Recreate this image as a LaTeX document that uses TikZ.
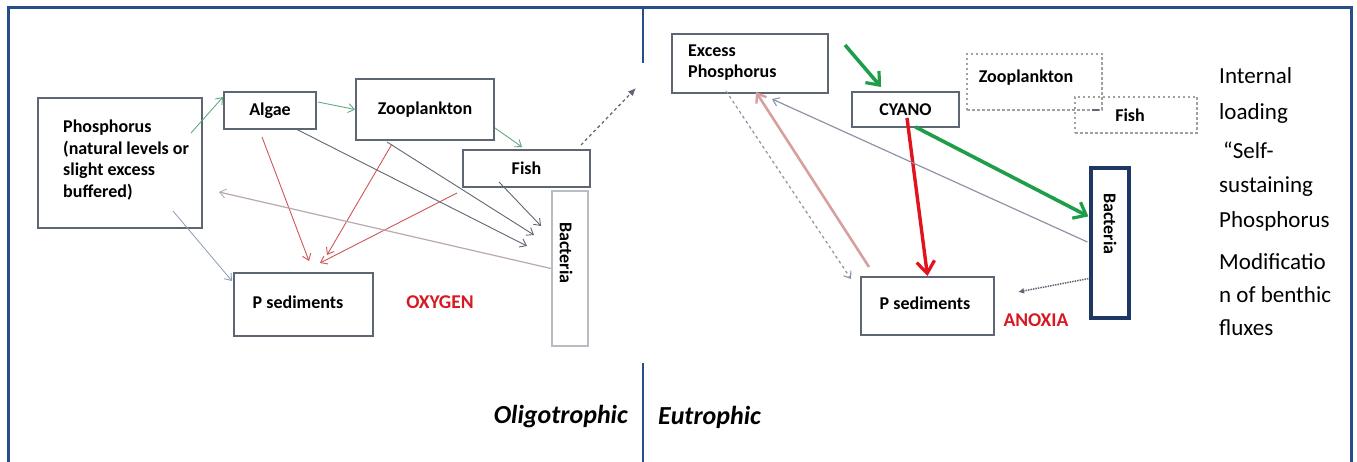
\documentclass[tikz,border=0pt]{standalone}
\usepackage{fontspec}
\setmainfont{Carlito}
\usetikzlibrary{arrows.meta,calc}
\definecolor{navy}{RGB}{38,78,136}
\definecolor{navybox}{RGB}{30,55,100}
\definecolor{boxgray}{RGB}{95,102,115}
\definecolor{lightbox}{RGB}{185,188,195}
\definecolor{dotgray}{RGB}{160,160,160}
\definecolor{tgreen}{RGB}{96,170,130}
\definecolor{dgray}{RGB}{95,102,115}
\definecolor{lred}{RGB}{205,85,90}
\definecolor{pinkgray}{RGB}{185,168,178}
\definecolor{lblue}{RGB}{140,155,182}
\definecolor{kgreen}{RGB}{30,158,72}
\definecolor{kred}{RGB}{225,20,30}
\definecolor{kpink}{RGB}{215,160,160}
\definecolor{rgray}{RGB}{140,148,165}
\definecolor{oxred}{RGB}{215,25,35}
\begin{document}
\begin{tikzpicture}[x=1pt,y=-1pt,
  lbox/.style={draw=boxgray, line width=2pt, fill=white, rectangle, inner sep=0pt,
    font=\fontsize{18}{21.7}\selectfont\bfseries},
  dotbox/.style={draw=dotgray, line width=1.5pt, dash pattern=on 2.5pt off 2.5pt, rectangle, inner sep=0pt,
    font=\fontsize{18}{21.7}\selectfont\bfseries},
  lbl/.style={inner sep=0pt, font=\fontsize{18}{21.7}\selectfont\bfseries},
  redlbl/.style={inner sep=0pt, text=oxred, font=\fontsize{19.5}{23}\selectfont\bfseries},
  sidetxt/.style={inner sep=0pt, anchor=west, font=\fontsize{23}{28}\selectfont},
  ttl/.style={inner sep=0pt, font=\fontsize{26}{30}\selectfont\bfseries\itshape},
  thinarr/.style={line width=0.9pt, -{Straight Barb[length=6pt,width=9pt,line width=0.9pt]}},
  frame/.style={draw=navy, line width=3pt}
]
\useasboundingbox (0,0) rectangle (1357,462);

% frame
\draw[frame] (8,462) -- (8,8) -- (1351,8) -- (1351,462);
\draw[frame, line width=2.6pt] (643,8) -- (643,63);
\draw[frame, line width=2.6pt] (643,363) -- (643,462);

% ---------- left panel ----------
\node[lbox, minimum width=164pt, minimum height=130pt] (phos) at (120,163) {};
\node[lbl, anchor=west, align=left] (phostxt) at (63,160)
  {Phosphorus\\(natural levels or\\slight excess\\buffered)};
\node[lbox, minimum width=92pt, minimum height=37pt] (algae) at (270,110.5) {Algae};
\node[lbox, minimum width=138pt, minimum height=61pt] (zoo) at (425,109.5) {Zooplankton};
\node[lbox, minimum width=127pt, minimum height=37pt] (fish) at (526.5,168.5) {Fish};
\node[lbox, draw=lightbox, minimum width=36pt, minimum height=155pt] (bactL) at (570,268.5) {};
\node[lbl, rotate=-90] (bactLtxt) at (566,253) {Bacteria};
\node[lbox, minimum width=139pt, minimum height=63pt] (psedL) at (303.5,304.5) {};
\node[lbl] (psedLtxt) at (298,302) {P sediments};
\node[redlbl] (oxy) at (440,302) {OXYGEN};
\node[ttl, anchor=east] (oligo) at (628,417) {Oligotrophic};
\node[ttl, anchor=west] (eutro) at (658,417) {Eutrophic};
\coordinate (topend) at (636,88);

% left arrows
\draw[thinarr, tgreen] ($(phos.north east)+(-12,36)$) -- ($(algae.north west)+(0,6)$);
\draw[thinarr, tgreen] ($(algae.north east)+(1,11)$) -- (zoo.west);
\draw[thinarr, tgreen] ($(zoo.south east)+(0,-13)$) -- ($(fish.north west)+(60,-2)$);
\draw[dgray, line width=1.3pt, dashed, -{Latex[length=8pt,width=7pt]}] ($(fish.north east)+(-10,-4)$) -- (topend);
\draw[thinarr, dgray] ($(algae.south east)+(-21,-1)$) -- ($(bactL.north west)+(-24,56)$);
\draw[thinarr, dgray] ($(zoo.south west)+(32,1)$) -- ($(bactL.north west)+(-17,45)$);
\draw[thinarr, dgray] ($(fish.south west)+(37,-6)$) -- ($(bactL.north west)+(-10,36)$);
\draw[thinarr, lred] ($(algae.south west)+(39,7)$) -- ($(psedL.north west)+(76,-11)$);
\draw[thinarr, lred] ($(zoo.south west)+(37,3)$) -- ($(psedL.north west)+(94,-17)$);
\draw[thinarr, lred] ($(fish.south west)+(-5,5)$) -- ($(psedL.north west)+(87,-9)$);
\draw[thinarr, pinkgray, line width=1.2pt] (bactL.west) -- ($(phos.east)+(16,29)$);
\draw[thinarr, lblue, line width=0.8pt] ($(phos.south east)+(-30,-18)$) -- ($(psedL.north west)+(-1,9)$);

% ---------- right panel ----------
\node[lbox, minimum width=156pt, minimum height=59pt] (excess) at (750,63.5) {};
\node[lbl, anchor=west, align=left] (excesstxt) at (688,62.5) {Excess\\Phosphorus};
\node[lbox, minimum width=107pt, minimum height=35pt] (cyano) at (905.5,109.5) {CYANO};
\node[dotbox, minimum width=135pt, minimum height=56pt] (zooR) at (1034.5,82) {};
\node[lbl] (zooRtxt) at (1026,78) {Zooplankton};
\node[dotbox, minimum width=122pt, minimum height=36pt] (fishR) at (1136,115) {};
\node[lbl] (fishRtxt) at (1130,115) {Fish};
\draw[dgray, line width=1.5pt] ($(fishR.north west)+(18,14)$) -- ($(fishR.north west)+(25,14)$);
\node[lbox, draw=navybox, line width=3.2pt, minimum width=38pt, minimum height=150pt] (bactR) at (1110,243) {};
\node[lbl, rotate=-90] (bactRtxt) at (1110,224) {Bacteria};
\node[lbox, minimum width=133pt, minimum height=58pt] (psedR) at (927.5,306) {};
\node[lbl] (psedRtxt) at (925,303) {P sediments};
\node[redlbl] (anox) at (1036,320) {ANOXIA};

\node[sidetxt] (s1) at (1219,76) {Internal};
\node[sidetxt] (s2) at (1219,113) {loading};
\node[sidetxt] (s3) at (1223,150) {“Self-};
\node[sidetxt] (s4) at (1219,187) {sustaining};
\node[sidetxt] (s5) at (1219,221) {Phosphorus};
\node[sidetxt] (s6) at (1219,262) {Modificatio};
\node[sidetxt] (s7) at (1219,295) {n of benthic};
\node[sidetxt] (s8) at (1219,328) {fluxes};

% right arrows
\draw[kgreen, line width=3.6pt, -{Straight Barb[length=11pt,width=18pt,line width=3.2pt]}]
  ($(excess.north east)+(16,12)$) -- ($(cyano.north west)+(30,-4)$);
\draw[kgreen, line width=3.6pt, -{Straight Barb[length=11pt,width=18pt,line width=3.2pt]}]
  ($(cyano.south)+(10,-1)$) -- ($(bactR.north west)+(-1,50)$);
\draw[kred, line width=3.4pt, -{Straight Barb[length=12pt,width=18pt,line width=3.2pt]}]
  ($(cyano.south)+(1.5,-10)$) -- (psedR.north);
\draw[kpink, line width=2.6pt, -{Straight Barb[length=8pt,width=12pt,line width=2.4pt]}]
  ($(psedR.north west)+(9,-9)$) -- ($(excess.south west)+(85,-2)$);
\draw[rgray, line width=1.2pt, -{Straight Barb[length=6pt,width=9pt,line width=1.1pt]}]
  ($(bactR.west)+(-2,-1)$) -- ($(excess.south west)+(101,5)$);
\draw[rgray, line width=1.2pt, dashed, -{Straight Barb[length=6pt,width=9pt,line width=1.1pt]}]
  ($(excess.south west)+(55,-3)$) -- ($(psedR.north west)+(-9,3)$);
\draw[dgray, line width=1.5pt, densely dotted, -{Latex[length=6pt,width=6pt]}]
  ($(bactR.south west)+(-1,-41)$) -- ($(psedR.north east)+(23,16)$);
\end{tikzpicture}
\end{document}
